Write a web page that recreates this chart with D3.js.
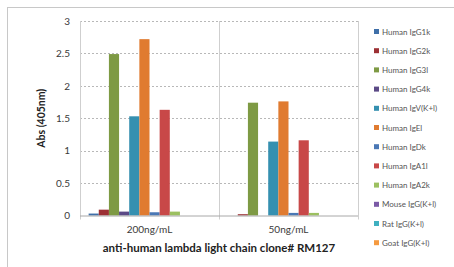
<!DOCTYPE html>
<html><head><meta charset="utf-8">
<script src="https://cdn.jsdelivr.net/npm/d3@7"></script>
<style>body{margin:0;background:#fff;}svg{display:block;}</style>
</head><body>
<script>
const categories = ["200ng/mL", "50ng/mL"];
const seriesNames = ["Human IgG1k","Human IgG2k","Human IgG3l","Human IgG4k","Human IgV(K+l)","Human IgEl","Human IgDk","Human IgA1l","Human IgA2k","Mouse IgG(K+l)","Rat IgG(K+l)","Goat IgG(K+l)"];
const values200 = [0.03, 0.09, 2.49, 0.06, 1.53, 2.72, 0.05, 1.63, 0.06, 0, 0, 0];
const values50  = [0.00, 0.02, 1.74, 0.00, 1.14, 1.76, 0.04, 1.16, 0.04, 0, 0, 0];
const colors = ["#3f6fa8","#9c3034","#7e9a44","#5b4a86","#3590b0","#e07b30","#4a78b5","#c84848","#9cc060","#7b5aa6","#3fb0c0","#f59a40"];
const yTicks = [0, 0.5, 1, 1.5, 2, 2.5, 3];
const xTitle = "anti-human lambda light chain clone# RM127";
const yTitle = "Abs (405nm)";

const W = 454, H = 267;
const svg = d3.select("body").append("svg").attr("width", W).attr("height", H);
const font = "Lato, 'Open Sans', sans-serif";

// outer frame
svg.append("rect").attr("x", 7.5).attr("y", 7.5).attr("width", W + 10).attr("height", H + 10)
  .attr("fill", "none").attr("stroke", "#c8c8c8");

const L = 80, R = 358, T = 21, B = 215.5;
const x0 = d3.scaleBand().domain(categories).range([L, R]).paddingInner(0).paddingOuter(0);
const x1 = d3.scaleBand().domain(d3.range(seriesNames.length)).range([0, x0.bandwidth()]).paddingOuter(0.85).paddingInner(0);
const y = d3.scaleLinear().domain([0, 3]).range([B, T]);

// gridlines
svg.append("g").selectAll("line").data(yTicks.filter(d => d > 0)).join("line")
  .attr("x1", L).attr("x2", R).attr("y1", d => Math.round(y(d)) + 0.5).attr("y2", d => Math.round(y(d)) + 0.5)
  .attr("stroke", "#b8b8b8").attr("stroke-dasharray", "2,2");

// vertical lines (category separators)
const vx = [L, L + x0.bandwidth(), R];
svg.append("g").selectAll("line").data(vx).join("line")
  .attr("x1", d => Math.round(d) + 0.5).attr("x2", d => Math.round(d) + 0.5)
  .attr("y1", T).attr("y2", B + 4).attr("stroke", "#cfcfcf");

// y axis labels
const yAxis = d3.axisLeft(y).tickValues(yTicks).tickSize(0).tickPadding(10).tickFormat(d3.format("~g"));
const ga = svg.append("g").attr("transform", `translate(${L},0)`).call(yAxis);
ga.select(".domain").remove();
ga.selectAll("text").attr("font-family", font).attr("font-size", 10).attr("fill", "#3a3a3a");

// bars
const data = [values200, values50];
const groups = svg.append("g").selectAll("g").data(categories).join("g")
  .attr("transform", d => `translate(${x0(d)},0)`);
groups.selectAll("rect").data((d, i) => data[i].map((v, j) => ({v, j}))).join("rect")
  .attr("x", d => x1(d.j)).attr("width", x1.bandwidth())
  .attr("y", d => y(d.v)).attr("height", d => B - y(d.v))
  .attr("fill", d => colors[d.j]);

// x axis line
svg.append("line").attr("x1", L).attr("x2", R).attr("y1", B + 0.5).attr("y2", B + 0.5).attr("stroke", "#a8a8a8");

// x labels
const xAxis = d3.axisBottom(x0).tickSize(0).tickPadding(10);
const gx = svg.append("g").attr("transform", `translate(0,${B})`).call(xAxis);
gx.select(".domain").remove();
gx.selectAll("text").attr("font-family", font).attr("font-size", 10).attr("fill", "#3a3a3a");

// titles
svg.append("text").attr("x", (L + R) / 2).attr("y", 252).attr("text-anchor", "middle")
  .attr("font-family", font).attr("font-weight", "bold").attr("font-size", 11.5).attr("fill", "#222").text(xTitle);
svg.append("text").attr("transform", `translate(45,${(T + B) / 2}) rotate(-90)`).attr("text-anchor", "middle")
  .attr("font-family", font).attr("font-weight", "bold").attr("font-size", 10.5).attr("fill", "#222").text(yTitle);

// legend
const lg = svg.append("g").selectAll("g").data(seriesNames).join("g")
  .attr("transform", (d, i) => `translate(374,${32 + i * 19.2})`);
lg.append("rect").attr("x", 0).attr("y", -3).attr("width", 5).attr("height", 5).attr("fill", (d, i) => colors[i]);
lg.append("text").attr("x", 8).attr("y", 2.5).attr("font-family", font).attr("font-size", 8)
  .attr("fill", "#555").text(d => d);
</script>
</body></html>
